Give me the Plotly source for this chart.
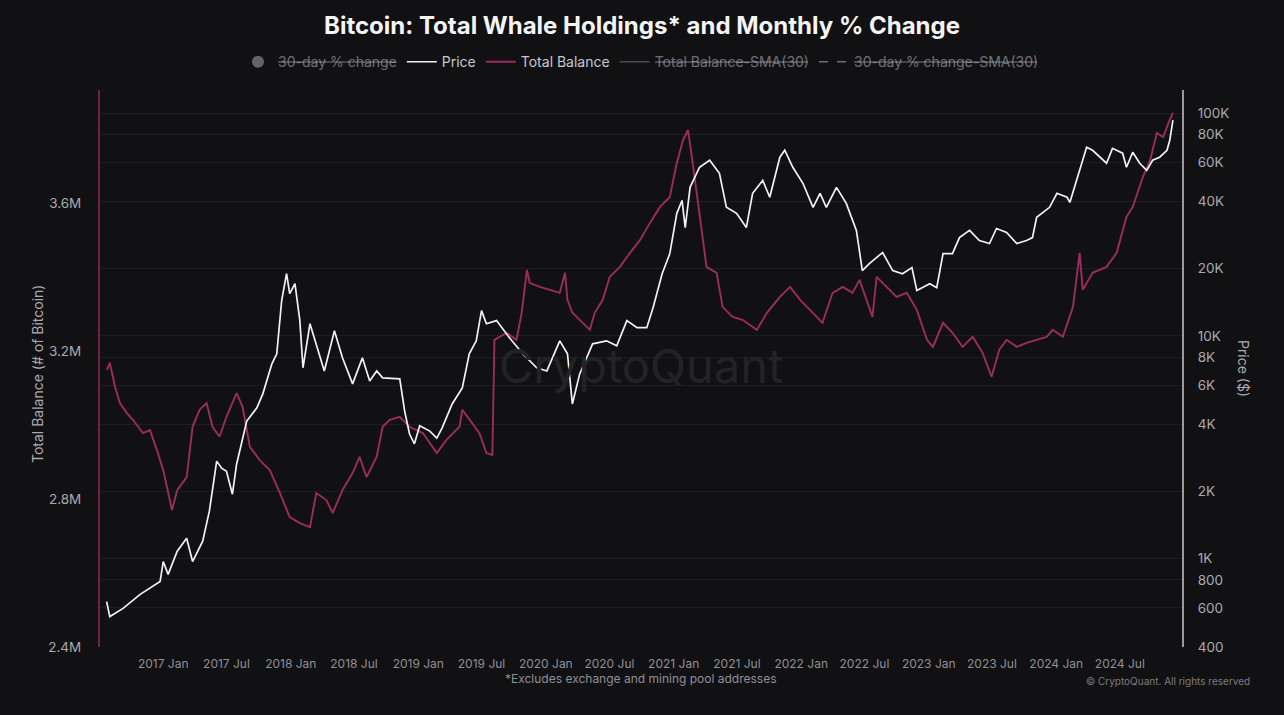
import plotly.graph_objects as go

# ---------------- data ----------------
price_dates = [
    "2016-07-23", "2016-08-01", "2016-09-08", "2016-10-27", "2016-12-23", "2017-01-01", "2017-01-15", "2017-02-10", "2017-03-09", "2017-03-26",
    "2017-04-24", "2017-05-13", "2017-06-03", "2017-06-17", "2017-07-01", "2017-07-18", "2017-07-30", "2017-08-28", "2017-09-26", "2017-10-13",
    "2017-11-08", "2017-11-22", "2017-12-06", "2017-12-20", "2017-12-29", "2018-01-13", "2018-01-27", "2018-02-05", "2018-02-25", "2018-03-15",
    "2018-04-07", "2018-05-06", "2018-05-29", "2018-06-27", "2018-07-25", "2018-08-15", "2018-09-04", "2018-09-21", "2018-11-09", "2018-11-23",
    "2018-12-07", "2018-12-21", "2019-01-05", "2019-02-03", "2019-02-23", "2019-03-10", "2019-04-08", "2019-05-07", "2019-05-27", "2019-06-16",
    "2019-07-01", "2019-07-15", "2019-08-13", "2019-09-19", "2019-10-27", "2019-12-06", "2020-01-04", "2020-02-10", "2020-03-03", "2020-03-17",
    "2020-04-07", "2020-05-14", "2020-06-23", "2020-07-22", "2020-08-20", "2020-09-18", "2020-10-16", "2020-11-03", "2020-11-29", "2020-12-21",
    "2021-01-10", "2021-01-25", "2021-02-03", "2021-02-17", "2021-03-16", "2021-04-14", "2021-05-12", "2021-06-01", "2021-06-30", "2021-07-28",
    "2021-08-15", "2021-09-13", "2021-10-03", "2021-11-01", "2021-11-15", "2021-12-08", "2022-01-06", "2022-02-04", "2022-02-24", "2022-03-14",
    "2022-04-12", "2022-05-10", "2022-06-08", "2022-06-25", "2022-07-15", "2022-08-22", "2022-09-20", "2022-10-18", "2022-11-14", "2022-11-28",
    "2023-01-04", "2023-01-24", "2023-02-11", "2023-03-10", "2023-03-30", "2023-04-28", "2023-05-26", "2023-06-24", "2023-07-14", "2023-08-12",
    "2023-09-10", "2023-10-08", "2023-10-25", "2023-11-06", "2023-12-13", "2024-01-03", "2024-02-01", "2024-02-09", "2024-03-01", "2024-03-28",
    "2024-04-14", "2024-05-04", "2024-05-24", "2024-06-10", "2024-07-09", "2024-07-20", "2024-08-07", "2024-08-27", "2024-09-16", "2024-10-03",
    "2024-10-23", "2024-11-13", "2024-11-21", "2024-11-30",
]
price_values = [
    640, 548, 596, 689, 787, 968, 848, 1077, 1231, 968,
    1195, 1629, 2735, 2543, 2464, 1943, 2648, 4140, 4745, 5484,
    7480, 8300, 14400, 19000, 15460, 17140, 11700, 7180, 11330, 9200,
    6950, 10540, 7960, 6080, 7960, 6270, 6950, 6470, 6400, 4590,
    3620, 3270, 3940, 3730, 3470, 3850, 4940, 5830, 8300, 9490,
    12970, 11330, 11700, 9790, 8300, 7180, 6950, 9490, 8300, 4940,
    6740, 9200, 9490, 9020, 11700, 10870, 10870, 13370, 19000, 23390,
    35480, 40540, 30620, 46420, 57150, 61430, 53700, 37760, 35480, 30620,
    43650, 49880, 41890, 63420, 68130, 57150, 48420, 37760, 43650, 37760,
    46420, 39350, 29730, 19630, 21080, 23660, 19630, 19000, 20230, 15960,
    17140, 16440, 23390, 23390, 27600, 29730, 26790, 25960, 30340, 29120,
    25960, 26790, 27600, 34050, 37760, 43650, 41890, 39730, 51480, 70300,
    68130, 63420, 59580, 69500, 66070, 57150, 66750, 59580, 55340, 61430,
    63420, 68130, 75550, 93000,
]

balance_dates = [
    "2016-07-24", "2016-08-01", "2016-08-16", "2016-08-30", "2016-09-19", "2016-10-06", "2016-11-04", "2016-11-24", "2016-12-14", "2017-01-01",
    "2017-01-26", "2017-02-10", "2017-03-09", "2017-03-26", "2017-04-15", "2017-05-05", "2017-05-22", "2017-06-11", "2017-07-01", "2017-07-30",
    "2017-08-16", "2017-09-06", "2017-10-04", "2017-11-02", "2017-12-01", "2017-12-29", "2018-01-27", "2018-02-25", "2018-03-15", "2018-04-13",
    "2018-05-01", "2018-05-29", "2018-06-27", "2018-07-17", "2018-08-06", "2018-09-04", "2018-09-21", "2018-10-11", "2018-11-09", "2018-12-07",
    "2019-01-14", "2019-02-23", "2019-03-22", "2019-04-29", "2019-05-07", "2019-06-05", "2019-06-25", "2019-07-15", "2019-08-01", "2019-08-07",
    "2019-09-11", "2019-10-09", "2019-10-24", "2019-11-02", "2019-11-08", "2019-11-16", "2019-12-15", "2020-01-13", "2020-02-10", "2020-02-25",
    "2020-03-03", "2020-03-17", "2020-04-07", "2020-05-06", "2020-05-20", "2020-06-12", "2020-07-02", "2020-07-31", "2020-08-29", "2020-09-27",
    "2020-10-25", "2020-11-23", "2020-12-21", "2021-01-10", "2021-01-28", "2021-02-11", "2021-02-26", "2021-03-08", "2021-03-22", "2021-04-05",
    "2021-05-04", "2021-05-21", "2021-06-19", "2021-07-17", "2021-08-27", "2021-09-25", "2021-11-01", "2021-11-30", "2021-12-29", "2022-02-04",
    "2022-03-03", "2022-04-01", "2022-04-30", "2022-05-28", "2022-06-17", "2022-07-07", "2022-07-24", "2022-08-05", "2022-09-03", "2022-10-01",
    "2022-10-30", "2022-11-28", "2022-12-27", "2023-01-13", "2023-02-11", "2023-03-10", "2023-04-08", "2023-05-07", "2023-06-04", "2023-06-30",
    "2023-07-22", "2023-08-12", "2023-09-10", "2023-10-08", "2023-11-06", "2023-12-05", "2023-12-22", "2024-01-20", "2024-02-18", "2024-03-08",
    "2024-03-17", "2024-04-14", "2024-05-24", "2024-06-22", "2024-07-20", "2024-08-07", "2024-09-05", "2024-09-26", "2024-10-15", "2024-11-02",
    "2024-11-21", "2024-11-30",
]
balance_millions = [
    3.149, 3.168, 3.103, 3.059, 3.032, 3.014, 2.978, 2.986, 2.932, 2.878,
    2.770, 2.824, 2.859, 2.995, 3.041, 3.059, 2.995, 2.968, 3.022, 3.086,
    3.049, 2.941, 2.905, 2.878, 2.816, 2.751, 2.735, 2.724, 2.816, 2.797,
    2.762, 2.824, 2.870, 2.914, 2.859, 2.914, 2.995, 3.014, 3.022, 2.995,
    2.978, 2.924, 2.959, 2.995, 3.041, 3.005, 2.978, 2.924, 2.919, 3.230,
    3.249, 3.230, 3.303, 3.373, 3.419, 3.384, 3.373, 3.365, 3.357, 3.411,
    3.338, 3.303, 3.284, 3.257, 3.303, 3.338, 3.400, 3.427, 3.465, 3.500,
    3.546, 3.589, 3.616, 3.708, 3.770, 3.797, 3.697, 3.627, 3.519, 3.427,
    3.411, 3.319, 3.292, 3.284, 3.257, 3.303, 3.346, 3.373, 3.338, 3.303,
    3.276, 3.357, 3.373, 3.357, 3.392, 3.338, 3.292, 3.400, 3.373, 3.346,
    3.357, 3.311, 3.230, 3.211, 3.276, 3.249, 3.211, 3.238, 3.195, 3.130,
    3.203, 3.230, 3.211, 3.222, 3.230, 3.238, 3.257, 3.238, 3.319, 3.465,
    3.365, 3.411, 3.427, 3.465, 3.562, 3.589, 3.670, 3.716, 3.789, 3.778,
    3.824, 3.843,
]

balance_ticks = [2.4e6, 2.8e6, 3.2e6, 3.6e6]
balance_ticktext = ["2.4M", "2.8M", "3.2M", "3.6M"]
price_ticks = [400, 600, 800, 1000, 2000, 4000, 6000, 8000, 10000, 20000, 40000, 60000, 80000, 100000]
price_ticktext = ["400", "600", "800", "1K", "2K", "4K", "6K", "8K", "10K", "20K", "40K", "60K", "80K", "100K"]

# ---------------- styles ----------------
BG = "#111114"
RED = "#9b2d5e"
WHITE = "#f2f2f2"
TICK = "#a9a9ad"
FONT = "Inter, Roboto, 'Open Sans', sans-serif"

fig = go.Figure()

# hidden (legend-only) series, as in the reference legend
fig.add_trace(go.Scatter(x=[None], y=[None], name="30-day % change", mode="markers",
                         marker=dict(color="#b4b4c0", size=12, symbol="circle"),
                         visible="legendonly", legendrank=1))
fig.add_trace(go.Scatter(x=[None], y=[None], name="Total Balance-SMA(30)", mode="lines",
                         line=dict(color="#888888", width=1.5),
                         visible="legendonly", legendrank=4))
fig.add_trace(go.Scatter(x=[None], y=[None], name="30-day % change-SMA(30)", mode="lines",
                         line=dict(color="#cccccc", width=1.5, dash="dash"),
                         visible="legendonly", legendrank=5))

fig.add_trace(go.Scatter(x=balance_dates, y=[v * 1e6 for v in balance_millions],
                         name="Total Balance", mode="lines",
                         line=dict(color=RED, width=1.9), yaxis="y", legendrank=3))
fig.add_trace(go.Scatter(x=price_dates, y=price_values, name="Price", mode="lines",
                         line=dict(color=WHITE, width=1.7), yaxis="y2", legendrank=2))

# strike-through marks over the hidden legend entries (legend styling)
LEG_Y = (647 - 62) / 557
strike_spans = [(278, 396), (655, 808), (854, 1037)]
shapes = [dict(type="line", xref="paper", yref="paper",
               x0=(a - 100) / 1082, x1=(b - 100) / 1082, y0=LEG_Y, y1=LEG_Y,
               line=dict(color="#7d7d82", width=1)) for a, b in strike_spans]

fig.update_layout(
    width=1284, height=715,
    paper_bgcolor=BG, plot_bgcolor=BG,
    margin=dict(l=100, r=102, t=90, b=68),
    font=dict(family=FONT, color=TICK, size=12),
    title=dict(text="<b>Bitcoin: Total Whale Holdings* and Monthly % Change</b>",
               x=0.5, xanchor="center", y=1 - 26 / 715, yanchor="middle", yref="container",
               font=dict(family=FONT, size=24, color="#f4f4f4")),
    showlegend=True,
    legend=dict(orientation="h", x=0.5, xanchor="center", y=1.05, yanchor="middle",
                font=dict(size=14, color="#c8c8cc"), bgcolor="rgba(0,0,0,0)",
                itemwidth=30, traceorder="normal"),
    xaxis=dict(type="date", range=["2016-07-04", "2024-12-26"],
               tick0="2017-01-01", dtick="M6", tickformat="%Y %b",
               showgrid=False, zeroline=False, showline=False,
               tickfont=dict(size=12, color="#8f8f94"), ticks="", ticklabelstandoff=8),
    yaxis=dict(range=[2.4e6, 3.905e6], tickvals=balance_ticks, ticktext=balance_ticktext,
               showgrid=False, zeroline=False, showline=True, linecolor="#6e2344", linewidth=2,
               ticks="", ticklabelstandoff=14, tickfont=dict(size=13.5, color=TICK)),
    yaxis2=dict(type="log", overlaying="y", side="right", range=[2.602, 5.104],
                tickvals=price_ticks, ticktext=price_ticktext,
                showgrid=True, gridcolor="#1c1c21", gridwidth=1,
                zeroline=False, showline=True, linecolor="#9a9a9e", linewidth=2,
                ticks="", ticklabelstandoff=11, tickfont=dict(size=13.5, color=TICK)),
    shapes=shapes,
    annotations=[
        dict(text="CryptoQuant", x=0.5, y=0.506, xref="paper", yref="paper",
             showarrow=False, font=dict(family=FONT, size=47, color="#232327")),
        dict(text="Total Balance (# of Bitcoin)", x=-0.068, y=0.49, xref="paper", yref="paper",
             textangle=-90, showarrow=False, font=dict(size=14, color=TICK)),
        dict(text="Price ($)", x=1.0666, y=0.5, xref="paper", yref="paper",
             textangle=90, showarrow=False, font=dict(size=14, color=TICK)),
        dict(text="*Excludes exchange and mining pool addresses", x=0.5, y=-0.0736,
             xref="paper", yref="paper", showarrow=False, font=dict(size=12, color="#8f8f94")),
        dict(text="© CryptoQuant. All rights reserved", x=1.0647, y=-0.0754, xanchor="right",
             xref="paper", yref="paper", showarrow=False, font=dict(size=10, color="#7c7c80")),
    ],
)

fig.write_html("out.html", config={"displayModeBar": False},
               post_script="document.body.style.margin='0';")
